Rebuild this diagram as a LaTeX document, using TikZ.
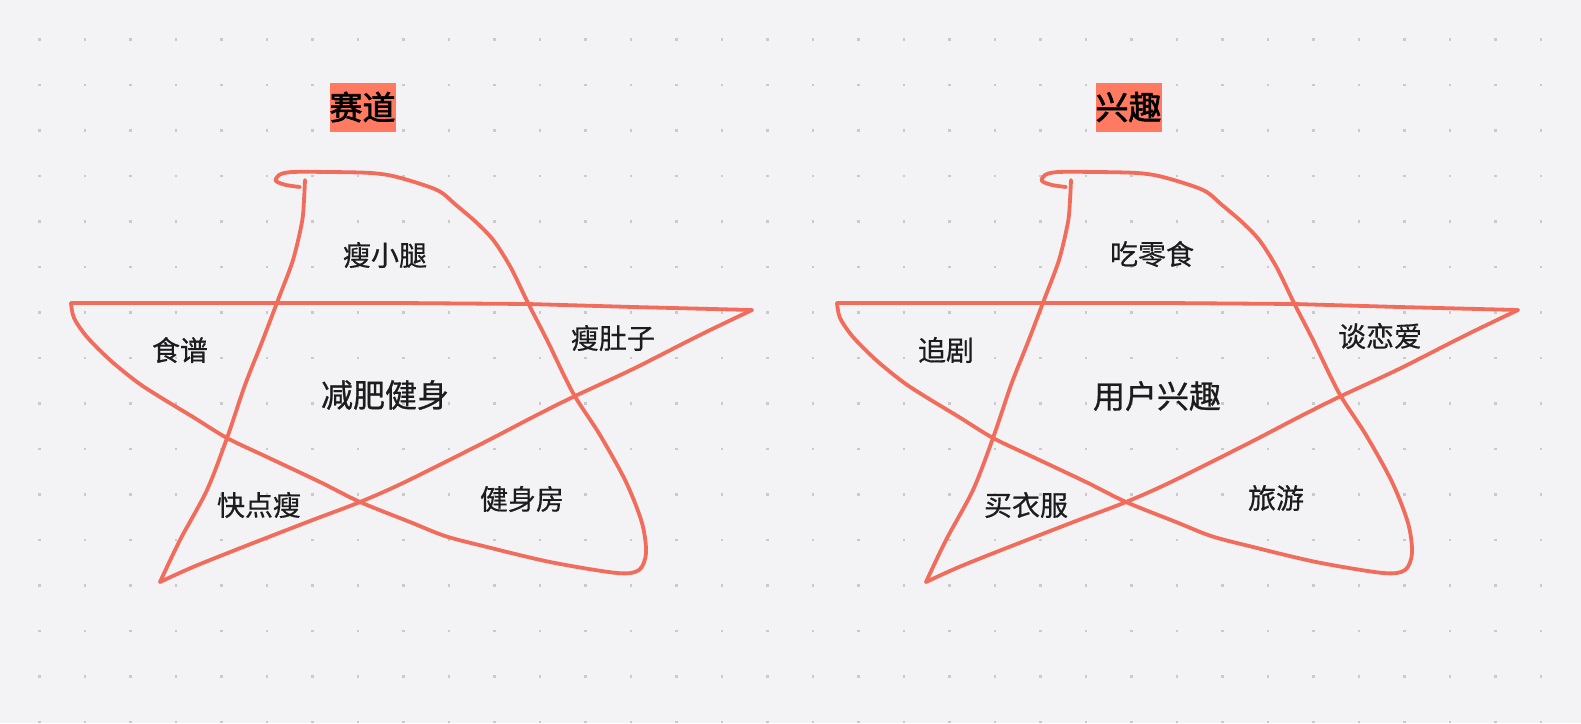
\documentclass[tikz,border=0pt]{standalone}
\usepackage{fontspec}
\newfontfamily\cjk[FakeBold=0.5]{Noto Sans CJK SC}
\newfontfamily\cjkmid[FakeBold=0.8]{Noto Sans CJK SC}
\newfontfamily\cjkbold[FakeBold=2]{Noto Sans CJK SC}
\definecolor{bgc}{RGB}{243,242,245}
\definecolor{gridc}{RGB}{202,202,205}
\definecolor{starc}{RGB}{242,108,92}
\definecolor{hlc}{RGB}{255,122,96}
\definecolor{txtc}{RGB}{28,28,28}
\tikzset{
  starline/.style={draw=starc, line width=3.8pt, line cap=round, line join=round},
  lbl/.style={font=\cjk\fontsize{28}{30}\selectfont, text=txtc, inner sep=0pt},
  biglbl/.style={font=\cjkmid\fontsize{32}{34}\selectfont, text=txtc, inner sep=0pt},
  titlebox/.style={fill=hlc, font=\cjkbold\fontsize{33}{36}\selectfont, text=black, inner xsep=0pt, inner ysep=0pt, minimum height=49pt},
  griddot/.style={fill=gridc, draw=none}
}
\begin{document}
\begin{tikzpicture}[x=1pt,y=-1pt]
\useasboundingbox (0,0) rectangle (1581,723);
\fill[bgc] (0,0) rectangle (1581,723);
% dot grid
\foreach \i in {0,...,33}{
  \foreach \j in {0,...,15}{
    \fill[griddot] ({39.5+45.5*\i-1.2},{39.5+45.5*\j-1.2}) rectangle ++(2.4,2.4);
  }
}
% two hand-drawn stars
\foreach \dx in {0,766}{
\begin{scope}[xshift=\dx pt]
  \draw[starline] plot[smooth, tension=0.5] coordinates {
    (300,187) (286,185) (276,181) (279,175) (292,172) (330,172) (371,173)
    (397,177) (437,190) (456,205) (477,223) (494,241) (511,268) (528,303)
    (547,340) (573,393) (600,435) (626,482) (642,523) (646,553) (639,570)
    (617,573) (550,562) (483,546) (445,536) (410,522) (360,502) (320,482)
    (267,457) (227,438) (193,417) (160,397) (137,382) (110,360) (87,337) (74,318) (71,303)};
  \draw[starline] (71,303) -- (400,303) -- (528,304) -- (633,307) -- (752,310);
  \draw[starline] plot[smooth, tension=0.5] coordinates {
    (752,310) (700,335) (633,369) (573,397) (533,417) (483,443) (405,482)
    (360,502) (310,521) (243,547) (193,567) (160,582)};
  \draw[starline] plot[smooth, tension=0.5] coordinates {
    (160,582) (180,540) (207,490) (227,438) (245,385) (262,342) (278,300) (293,260)
    (302,222) (304,200) (305,180)};
\end{scope}
}
% titles
\node[titlebox] (t1) at (362.5,107) {赛道};
\node[titlebox] (t2) at (1128.5,107) {兴趣};
% left star labels
\node[lbl] (a1) at (385,255) {瘦小腿};
\node[lbl] (a2) at (180,350) {食谱};
\node[lbl] (a3) at (613,338) {瘦肚子};
\node[biglbl] (a4) at (385,395) {减肥健身};
\node[lbl] (a5) at (259,505) {快点瘦};
\node[lbl] (a6) at (522,499) {健身房};
% right star labels
\node[lbl] (b1) at (1152,254) {吃零食};
\node[lbl] (b2) at (946,350) {追剧};
\node[lbl] (b3) at (1380,336) {谈恋爱};
\node[biglbl] (b4) at (1157,396) {用户兴趣};
\node[lbl] (b5) at (1026,505) {买衣服};
\node[lbl] (b6) at (1276,498) {旅游};
\end{tikzpicture}
\end{document}
